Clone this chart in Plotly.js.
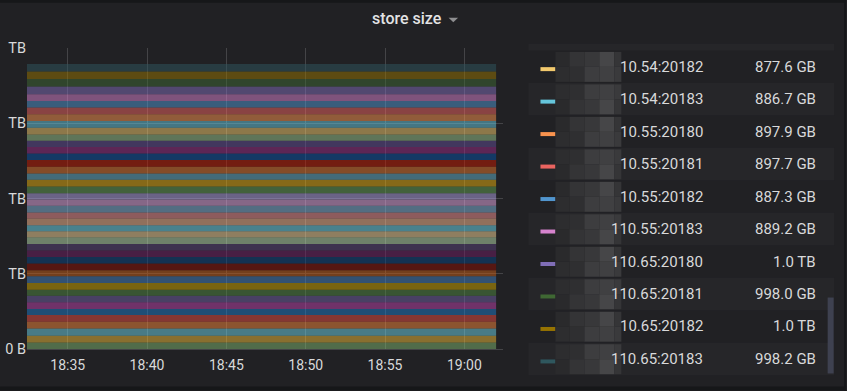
<!DOCTYPE html>
<html><head><meta charset="utf-8">
<script src="https://cdn.plot.ly/plotly-3.0.1.min.js"></script>
<style>html,body{margin:0;padding:0;background:#212124;}#chart{width:847px;height:391px;}</style>
</head><body><div id="chart"></div>
<script>
// ---------------- data ----------------
const timeStart = '2020-06-01 18:32:26';
const timeEnd = '2020-06-01 19:02:00';
const rangeEnd = '2020-06-01 19:02:26';
const xTickVals = ['2020-06-01 18:35:00','2020-06-01 18:40:00','2020-06-01 18:45:00','2020-06-01 18:50:00','2020-06-01 18:55:00','2020-06-01 19:00:00'];
const xTickText = ['18:35','18:40','18:45','18:50','18:55','19:00'];
const yTickVals = [0, 10, 20, 30, 40];
// the panel is cropped on the left, so only the unit of the upper labels is visible
const yTickText = ['0 B', 'TB', 'TB', 'TB', 'TB'];
// store size of each instance in TB, stack order bottom -> top
const storeSizeTB = [
  0.88, 0.89, 0.97, 0.89, 0.89, 0.80, 0.88, 0.89, 0.80, 0.89,
  0.88, 0.80, 0.89, 0.89, 0.84, 0.89, 0.88, 0.80, 0.80, 0.89,
  0.80, 0.89, 0.84, 0.84, 0.89, 0.89, 0.84, 0.89, 0.88, 0.89,
  0.84, 0.85, 0.84,
  0.8776, 0.8867, 0.8979, 0.8977, 0.8873, 0.8892, 1.012, 0.998, 1.010, 0.9982
];
const seriesColors = [
  '#7EB26D','#EAB839','#6ED0E0','#EF843C','#E24D42','#1F78C1','#BA43A9','#705DA0','#508642','#CCA300',
  '#447EBC','#C15C17','#890F02','#0A437C','#6D1F62','#584477','#B7DBAB','#F4D598','#70DBED','#F9BA8F',
  '#F29191','#82B5D8','#E5A8E2','#AEA2E0','#629E51','#E5AC0E','#64B0C8','#E0752D','#BF1B00','#0A50A1',
  '#962D82','#614D93','#9AC48A','#F2C96D','#65C5DB','#F9934E','#EA6460','#5195CE','#D683CE','#806EB7',
  '#3F6833','#967302','#2F575E'
];
const legendNames = ['10.54:20182','10.54:20183','10.55:20180','10.55:20181','10.55:20182',
  '110.55:20183','110.65:20180','110.65:20181','10.65:20182','110.65:20183'];
const legendValues = ['877.6 GB','886.7 GB','897.9 GB','897.7 GB','887.3 GB',
  '889.2 GB','1.0 TB','998.0 GB','1.0 TB','998.2 GB'];
const legendColors = seriesColors.slice(33);

// ---------------- layout helpers ----------------
const W = 847, H = 391;
const L = 27, R = 503.5, T = 48.3, B = 349.5;
const px = x => (x - L) / (R - L);
const py = y => (B - y) / (B - T);
function rgba(hex, a) {
  const n = parseInt(hex.slice(1), 16);
  return 'rgba(' + (n >> 16 & 255) + ',' + (n >> 8 & 255) + ',' + (n & 255) + ',' + a + ')';
}
function rect(x0, y0, x1, y1, fill) {
  return {type: 'rect', xref: 'paper', yref: 'paper', x0: px(x0), x1: px(x1), y0: py(y1), y1: py(y0),
    fillcolor: fill, line: {width: 0}, layer: 'below'};
}

const traces = storeSizeTB.map((v, i) => ({
  type: 'scatter', mode: 'lines',
  x: [timeStart, timeEnd], y: [v, v],
  stackgroup: 'one',
  name: i >= 33 ? legendNames[i - 33] : 'instance ' + i,
  line: {width: 0, color: seriesColors[i]},
  fillcolor: rgba(seriesColors[i], 0.52),
  hoverinfo: 'skip'
}));

const shapes = [];
const annotations = [];
// panel edges
shapes.push(rect(0, 0, W, 3, '#161719'));
shapes.push(rect(0, 387, W, H, '#161719'));
shapes.push(rect(845, 0, W, H, '#161719'));
// legend table
const rowTop0 = 50.7, rowH = 32.5;
shapes.push(rect(529, 44, 835, rowTop0, '#262629'));
const mosaicX = [556, 570, 585, 600, 615, 622];
const mosaicShadeA = ['#2a2a2c', '#2f2f31', '#38383a', '#404042', '#353537'];
const mosaicShadeB = ['#2d2d2f', '#343436', '#3d3d3f', '#464648', '#3a3a3c'];
for (let i = 0; i < legendNames.length; i++) {
  const top = rowTop0 + rowH * i, mid = top + rowH / 2;
  if (i % 2 === 1) shapes.push(rect(529, top, 835, top + rowH, '#262629'));
  shapes.push(rect(541, mid + 0.5, 556, mid + 4.5, legendColors[i]));
  for (let h = 0; h < 2; h++) {
    const y0 = top + 1.5 + h * 15, y1 = y0 + 15;
    for (let c = 0; c < mosaicX.length - 1; c++) {
      const shade = ((c + h + i) % 2 === 0) ? mosaicShadeA[c] : mosaicShadeB[c];
      shapes.push(rect(mosaicX[c], y0, mosaicX[c + 1], y1, shade));
    }
  }
  annotations.push({xref: 'paper', yref: 'paper', x: px(706), y: py(mid), xanchor: 'right', yanchor: 'middle',
    text: legendNames[i], showarrow: false, font: {size: 15, color: '#d8d9da'}});
  annotations.push({xref: 'paper', yref: 'paper', x: px(819), y: py(mid), xanchor: 'right', yanchor: 'middle',
    text: legendValues[i], showarrow: false, font: {size: 15, color: '#d8d9da'}});
}
// scrollbar
shapes.push(rect(828.5, 298, 834.5, 374, '#3e4150'));
// title + caret
annotations.push({xref: 'paper', yref: 'paper', x: px(407), y: py(19), xanchor: 'center', yanchor: 'middle',
  text: 'store size', showarrow: false, font: {size: 16, color: '#e3e3e4', weight: 500}});
shapes.push({type: 'path', xref: 'paper', yref: 'paper', layer: 'above',
  path: 'M' + px(449) + ',' + py(18) + ' L' + px(458.5) + ',' + py(18) + ' L' + px(453.75) + ',' + py(22.5) + ' Z',
  fillcolor: '#8e8e90', line: {width: 0}});

const layout = {
  width: W, height: H,
  margin: {l: L, r: W - R, t: T, b: H - B, pad: 0},
  paper_bgcolor: '#212124', plot_bgcolor: 'rgba(0,0,0,0)',
  showlegend: false,
  font: {family: 'Roboto, "Open Sans", sans-serif', color: '#d8d9da'},
  xaxis: {type: 'date', range: [timeStart, rangeEnd], tickvals: xTickVals, ticktext: xTickText,
    showgrid: true, gridcolor: '#444447', gridwidth: 1, zeroline: false, showline: false,
    ticks: '', ticklabelstandoff: 6, tickfont: {size: 14, color: '#d8d9da'}, fixedrange: true},
  yaxis: {range: [0, 40], tickvals: yTickVals, ticktext: yTickText,
    showgrid: true, gridcolor: '#444447', gridwidth: 1, zeroline: true, zerolinecolor: '#444447', zerolinewidth: 1,
    ticks: '', ticklabelstandoff: 5.5, tickfont: {size: 14.5, color: '#d8d9da'}, fixedrange: true},
  shapes: shapes,
  annotations: annotations
};

Plotly.newPlot('chart', traces, layout, {displayModeBar: false, staticPlot: true});
</script>
</body></html>
